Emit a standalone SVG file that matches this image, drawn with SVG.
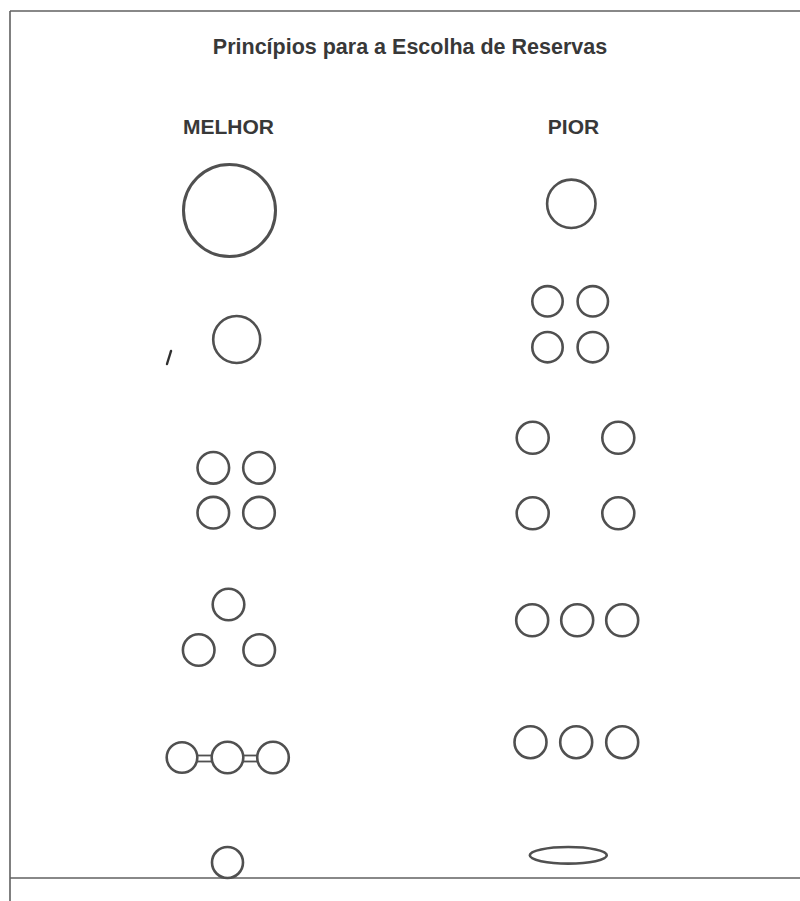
<svg xmlns="http://www.w3.org/2000/svg" width="800" height="901" viewBox="0 0 800 901">
<style>
  .c { fill: none; stroke: #505050; stroke-width: 2.6; }
  .big { stroke-width: 3; }
  .lbl { font-family: "Liberation Sans", Arial, sans-serif; font-weight: bold; fill: #383838; text-anchor: middle; }
  .frame { stroke: #606060; stroke-width: 1.6; fill: none; }
  .link { stroke: #505050; stroke-width: 1.8; }
</style>
<rect x="0" y="0" width="800" height="901" fill="#ffffff"/>
<g id="frame">
  <line class="frame" x1="10" y1="11" x2="800" y2="11"/>
  <line class="frame" x1="10" y1="11" x2="10" y2="901"/>
  <line class="frame" x1="10" y1="878" x2="800" y2="878"/>
</g>
<g id="title"><text class="lbl" x="410" y="54" font-size="21.5">Princípios para a Escolha de Reservas</text></g>
<g id="melhor-label"><text class="lbl" x="228.5" y="133.5" font-size="21">MELHOR</text></g>
<g id="pior-label"><text class="lbl" x="573.5" y="133.5" font-size="21">PIOR</text></g>

<!-- MELHOR column -->
<g id="m1"><circle class="c big" cx="229.5" cy="210.5" r="46"/></g>
<g id="m2"><circle class="c" cx="236.7" cy="339.5" r="23.5"/></g>
<g id="m3">
  <circle class="c" cx="213.3" cy="467.8" r="15.8"/>
  <circle class="c" cx="259" cy="467.8" r="15.8"/>
  <circle class="c" cx="213.3" cy="512.7" r="15.8"/>
  <circle class="c" cx="259" cy="512.7" r="15.8"/>
</g>
<g id="m4">
  <circle class="c" cx="228.5" cy="604.5" r="15.8"/>
  <circle class="c" cx="198.7" cy="650" r="15.8"/>
  <circle class="c" cx="259.2" cy="650" r="15.8"/>
</g>
<g id="m5">
  <circle class="c" cx="182" cy="757.5" r="15.3"/>
  <circle class="c" cx="227.5" cy="757.5" r="15.8"/>
  <circle class="c" cx="273" cy="757.5" r="15.8"/>
</g>
<g id="m6"><circle class="c" cx="227.5" cy="862.5" r="15.5"/></g>

<!-- PIOR column -->
<g id="p1"><circle class="c" cx="571.3" cy="203.8" r="24.2"/></g>
<g id="p2">
  <circle class="c" cx="547.5" cy="301.3" r="15.2"/>
  <circle class="c" cx="592.8" cy="301.3" r="15.2"/>
  <circle class="c" cx="547.5" cy="347.2" r="15.2"/>
  <circle class="c" cx="592.8" cy="347.2" r="15.2"/>
</g>
<g id="p3">
  <circle class="c" cx="532.7" cy="437.8" r="16"/>
  <circle class="c" cx="618.3" cy="437.8" r="16"/>
  <circle class="c" cx="532.7" cy="513.3" r="16"/>
  <circle class="c" cx="618.3" cy="513.3" r="16"/>
</g>
<g id="p4">
  <circle class="c" cx="532.2" cy="620.3" r="16"/>
  <circle class="c" cx="577.2" cy="620.3" r="16"/>
  <circle class="c" cx="622.2" cy="620.3" r="16"/>
</g>
<g id="p5">
  <circle class="c" cx="530.5" cy="742.2" r="16"/>
  <circle class="c" cx="576.2" cy="742.2" r="16"/>
  <circle class="c" cx="622.2" cy="742.2" r="16"/>
</g>
<g id="p6"><ellipse class="c" cx="568.3" cy="855.3" rx="38.5" ry="8.3"/></g>

<g id="connectors">
  <line class="link" x1="196.5" y1="755.5" x2="212.5" y2="755.5"/>
  <line class="link" x1="196.5" y1="761.5" x2="212.5" y2="761.5"/>
  <line class="link" x1="242.5" y1="755.5" x2="258" y2="755.5"/>
  <line class="link" x1="242.5" y1="761.5" x2="258" y2="761.5"/>
</g>

<g id="mark"><line x1="171" y1="351" x2="167" y2="364" stroke="#303030" stroke-width="2.4" stroke-linecap="round"/></g>
</svg>
